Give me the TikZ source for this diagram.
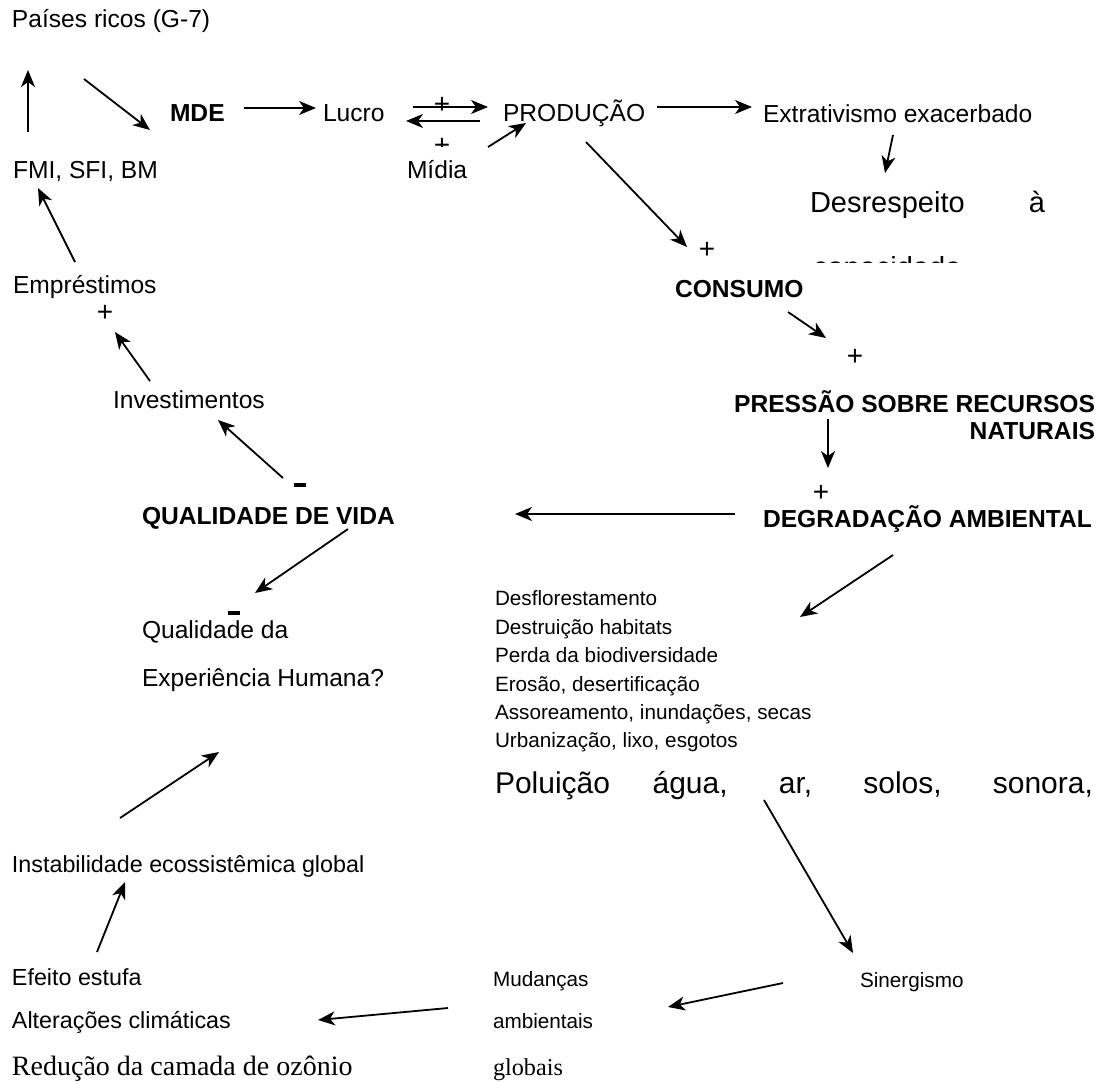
\documentclass[tikz,border=0pt]{standalone}
\usepackage{fontspec}
\setmainfont{Liberation Sans}
\newfontfamily\timesfont{Liberation Serif}
\usetikzlibrary{arrows.meta}
% font sizes (1pt = one unit of the picture)
\newcommand\fsA{\fontsize{24.6}{29}\selectfont}
\newcommand\fsB{\fontsize{23.3}{28}\selectfont}
\newcommand\fsC{\fontsize{20.7}{25}\selectfont}
\newcommand\fsL{\fontsize{29}{34}\selectfont}
\newcommand\fsP{\fontsize{30}{35}\selectfont}
\begin{document}
\begin{tikzpicture}[x=1pt,y=-1pt,
  txt/.style={anchor=base west, inner sep=0pt, outer sep=0pt, font=\fsA},
  boldtxt/.style={txt, font=\fsA\bfseries},
  plus/.style={anchor=center, inner sep=0pt, font=\fontsize{28}{30}\selectfont},
  minus/.style={fill=black, inner sep=0pt, minimum width=12pt, minimum height=3.5pt},
  arr/.style={draw, line width=1.8pt, -{Stealth[length=17pt,width=14pt,inset=5pt]}}]
\useasboundingbox (0,0) rectangle (1110,1081);
\fill[white] (0,0) rectangle (1110,1081);

% upper chain
\node[txt] (g7) at (12,28) {Países ricos (G-7)};
\node[txt] (fmi) at (13,178) {FMI, SFI, BM};
\node[boldtxt] (mde) at (170,121) {MDE};
\node[txt] (lucro) at (323,121) {Lucro};
\node[txt] (prod) at (503,121) {PRODUÇÃO};
\node[txt] (midia) at (407,178) {Mídia};
\node[txt] (extr) at (763,122) {Extrativismo exacerbado};
\node[txt, font=\fsL] (desr) at (810,212) {\makebox[235pt][s]{Desrespeito à}};
% second line of the text frame, cut off by the frame edge
\begin{scope}
  \clip (800,256) rectangle (990,262.3);
  \node[txt, font=\fsL] (capac) at (813,277.3) {capacidade};
\end{scope}
\node[plus] (plL) at (442,105) {+};
\begin{scope}
  \clip (430,136.5) rectangle (456,146.2);
  \node[plus] (plM) at (442,146.5) {+};
\end{scope}

% right column
\node[plus] (plC) at (707,250) {+};
\node[boldtxt] (cons) at (675,297) {CONSUMO};
\node[plus] (plP) at (855,357) {+};
\node[boldtxt, anchor=base east] (press) at (1095,412) {PRESSÃO SOBRE RECURSOS};
\node[boldtxt, anchor=base east] (natur) at (1095,439) {NATURAIS};
\node[plus] (plD) at (821,493) {+};
\node[boldtxt] (degr) at (763,527) {DEGRADAÇÃO AMBIENTAL};

% left column
\node[boldtxt] (qv) at (142,524) {QUALIDADE DE VIDA};
\node[minus] (mnQ) at (300,485) {};
\node[txt] (inv) at (113,408) {Investimentos};
\node[plus] (plE) at (105,313) {+};
\node[txt] (empr) at (13,293) {Empréstimos};
\node[minus] (mnD) at (234,613) {};
\node[txt] (quald) at (142,638) {Qualidade da};
\node[txt] (exper) at (142,686) {Experiência Humana?};
\node[txt, font=\fsB] (instab) at (12,872) {Instabilidade ecossistêmica global};
\node[txt, font=\fsB] (efeito) at (12,985) {Efeito estufa};
\node[txt, font=\fsB] (alter) at (12,1028) {Alterações climáticas};
\node[txt, font=\timesfont\fontsize{28}{30}\selectfont] (reduc) at (12,1075) {Redução da camada de ozônio};

% impacts list
\node[txt, font=\fsC] (l1) at (495,605) {Desflorestamento};
\node[txt, font=\fsC] (l2) at (495,634) {Destruição habitats};
\node[txt, font=\fsC] (l3) at (495,662) {Perda da biodiversidade};
\node[txt, font=\fsC] (l4) at (495,691) {Erosão, desertificação};
\node[txt, font=\fsC] (l5) at (495,719) {Assoreamento, inundações, secas};
\node[txt, font=\fsC] (l6) at (495,747) {Urbanização, lixo, esgotos};
\node[txt, font=\fsP] (polu) at (495,793) {\makebox[598pt][s]{Poluição água, ar, solos, sonora,}};

% bottom row
\node[txt, font=\fsC] (mud) at (493,986) {Mudanças};
\node[txt, font=\fsC] (amb) at (493,1028) {ambientais};
\node[txt, font=\timesfont\fontsize{24.2}{26}\selectfont] (glob) at (493,1075) {globais};
\node[txt, font=\fsC] (siner) at (860,987) {Sinergismo};

% connectors
\draw[arr] ([shift={(15,-46)}]fmi.base west) -- ([shift={(16,42)}]g7.base west);
\draw[arr] ([shift={(72,51)}]g7.base west) -- ([shift={(-20,9)}]mde.base west);
\draw[arr] ([shift={(74,-13)}]mde.base west) -- ([shift={(-7,-13)}]lucro.base west);
\draw[arr] ([shift={(90,-14)}]lucro.base west) -- ([shift={(-15,-14)}]prod.base west);
\draw[arr] ([shift={(-23,0)}]prod.base west) -- ([shift={(83,0)}]lucro.base west);
\draw[arr] ([shift={(81,-31)}]midia.base west) -- ([shift={(23,2)}]prod.base west);
\draw[arr] ([shift={(154,-14)}]prod.base west) -- ([shift={(-11,-15)}]extr.base west);
\draw[arr] ([shift={(130,13)}]extr.base west) -- ([shift={(75,-39)}]desr.base west);
\draw[arr] ([shift={(83,21)}]prod.base west) -- ([shift={(-20,-3)}]plC.center);
\draw[arr] ([shift={(113,15)}]cons.base west) -- ([shift={(-29,-19)}]plP.center);
\draw[arr] ([shift={(-267,7)}]press.base east) -- ([shift={(7,-25)}]plD.center);
\draw[arr] ([shift={(-28,-13)}]degr.base west) -- ([shift={(373,-10)}]qv.base west);
\draw[arr] ([shift={(-17,-7)}]mnQ.center) -- ([shift={(105,12)}]inv.base west);
\draw[arr] ([shift={(37,-27)}]inv.base west) -- ([shift={(10,19)}]plE.center);
\draw[arr] ([shift={(62,-31)}]empr.base west) -- ([shift={(25,10)}]fmi.base west);
\draw[arr] ([shift={(206,5)}]qv.base west) -- ([shift={(113,-45)}]quald.base west);
\draw[arr] ([shift={(130,28)}]degr.base west) -- ([shift={(305,-17)}]l2.base west);
\draw[arr] ([shift={(269,7)}]polu.base west) -- ([shift={(-7,-34)}]siner.base west);
\draw[arr] ([shift={(-77,-4)}]siner.base west) -- ([shift={(175,21)}]mud.base west);
\draw[arr] ([shift={(-45,22)}]mud.base west) -- ([shift={(306,-8)}]alter.base west);
\draw[arr] ([shift={(85,-33)}]efeito.base west) -- ([shift={(113,10)}]instab.base west);
\draw[arr] ([shift={(108,-54)}]instab.base west) -- ([shift={(77,66)}]exper.base west);
\end{tikzpicture}
\end{document}
